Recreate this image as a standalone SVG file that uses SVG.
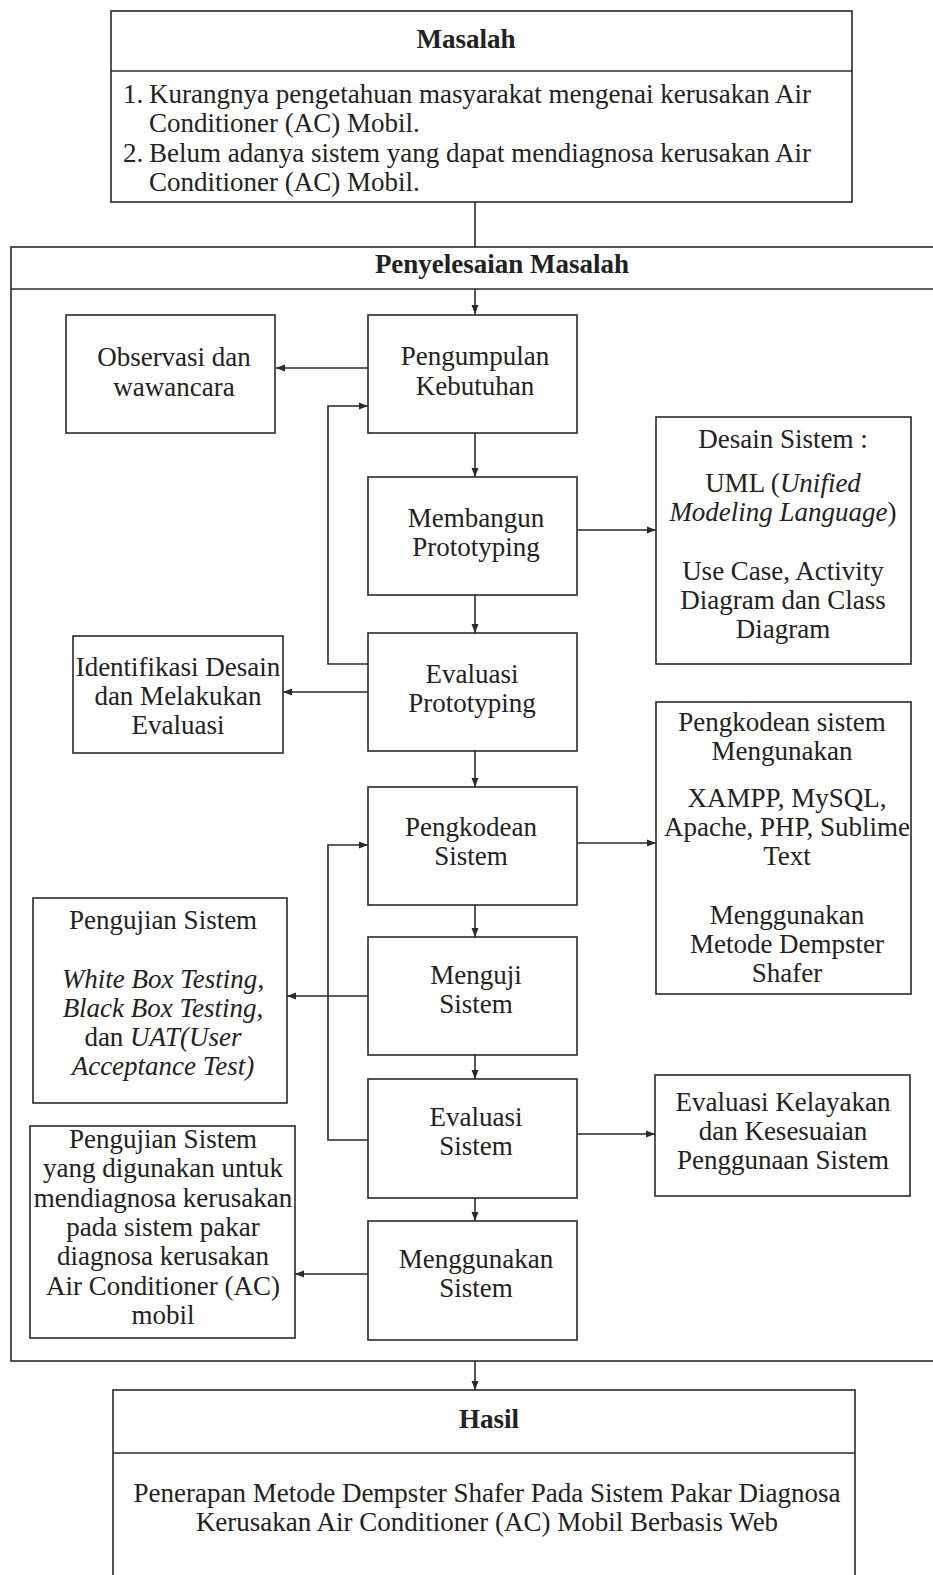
<svg xmlns="http://www.w3.org/2000/svg" width="933" height="1575" viewBox="0 0 933 1575">
  <defs>
    <marker id="arrow" markerWidth="10" markerHeight="8" refX="9" refY="4" orient="auto" markerUnits="userSpaceOnUse">
      <path d="M0,0.5 L9,4 L0,7.5 Z" fill="#2a2a2a"/>
    </marker>
    <style>
      .box { fill: #ffffff; stroke: #2a2a2a; stroke-width: 1.6; }
      .line { fill: none; stroke: #2a2a2a; stroke-width: 1.6; }
      .conn { fill: none; stroke: #2a2a2a; stroke-width: 1.6; marker-end: url(#arrow); }
      text { font-family: "Liberation Serif", "Times New Roman", serif; font-size: 27px; fill: #222222; }
      .c { text-anchor: middle; }
      .b { font-weight: bold; }
      .i { font-style: italic; }
    </style>
  </defs>

  <rect width="933" height="1575" fill="#ffffff"/>

  <!-- Problem statement -->
  <g id="masalah">
    <rect class="box" x="111" y="11" width="741" height="191"/>
    <line class="line" x1="111" y1="71" x2="852" y2="71"/>
    <text class="c b" x="466" y="48">Masalah</text>
    <text x="123" y="103">1.<tspan x="149">Kurangnya pengetahuan masyarakat mengenai kerusakan Air</tspan></text>
    <text x="149" y="132">Conditioner (AC) Mobil.</text>
    <text x="123" y="162">2.<tspan x="149">Belum adanya sistem yang dapat mendiagnosa kerusakan Air</tspan></text>
    <text x="149" y="191">Conditioner (AC) Mobil.</text>
  </g>

  <!-- Solution frame -->
  <g id="penyelesaian">
    <rect class="box" x="11" y="247" width="940" height="1114"/>
    <line class="line" x1="11" y1="289" x2="951" y2="289"/>
    <text class="c b" x="502" y="273">Penyelesaian Masalah</text>
  </g>

  <!-- Connectors -->
  <g id="connectors">
    <line class="line" x1="475" y1="202" x2="475" y2="247"/>
    <line class="conn" x1="475" y1="289" x2="475" y2="314"/>
    <line class="conn" x1="368" y1="368" x2="276" y2="368"/>
    <polyline class="conn" points="368,664 328,664 328,406 368,406"/>
    <line class="conn" x1="475" y1="433" x2="475" y2="477"/>
    <line class="conn" x1="578" y1="530" x2="656" y2="530"/>
    <line class="conn" x1="475" y1="595" x2="475" y2="633"/>
    <line class="conn" x1="368" y1="692" x2="283" y2="692"/>
    <line class="conn" x1="475" y1="751" x2="475" y2="787"/>
    <line class="conn" x1="578" y1="843" x2="656" y2="843"/>
    <polyline class="conn" points="368,1140 328,1140 328,845 368,845"/>
    <line class="conn" x1="475" y1="905" x2="475" y2="937"/>
    <line class="conn" x1="368" y1="996" x2="287" y2="996"/>
    <line class="conn" x1="475" y1="1055" x2="475" y2="1079"/>
    <line class="conn" x1="578" y1="1134" x2="655" y2="1134"/>
    <line class="conn" x1="475" y1="1198" x2="475" y2="1221"/>
    <line class="conn" x1="368" y1="1274" x2="295" y2="1274"/>
    <line class="conn" x1="475" y1="1361" x2="475" y2="1390"/>
  </g>

  <g id="pengumpulan">
    <rect class="box" x="368" y="315" width="209" height="118"/>
    <text class="c" x="475" y="365">Pengumpulan</text>
    <text class="c" x="475" y="395">Kebutuhan</text>
  </g>

  <g id="observasi">
    <rect class="box" x="66" y="315" width="209" height="118"/>
    <text class="c" x="174" y="366">Observasi dan</text>
    <text class="c" x="174" y="396">wawancara</text>
  </g>

  <g id="membangun">
    <rect class="box" x="368" y="477" width="209" height="118"/>
    <text class="c" x="476" y="527">Membangun</text>
    <text class="c" x="476" y="556">Prototyping</text>
  </g>

  <g id="desain">
    <rect class="box" x="656" y="417" width="255" height="247"/>
    <text class="c" x="783" y="448">Desain Sistem :</text>
    <text class="c" x="783" y="492">UML (<tspan class="i">Unified</tspan></text>
    <text class="c" x="783" y="521"><tspan class="i">Modeling Language</tspan>)</text>
    <text class="c" x="783" y="580">Use Case, Activity</text>
    <text class="c" x="783" y="609">Diagram dan Class</text>
    <text class="c" x="783" y="638">Diagram</text>
  </g>

  <g id="evaluasi-prototyping">
    <rect class="box" x="368" y="633" width="209" height="118"/>
    <text class="c" x="472" y="683">Evaluasi</text>
    <text class="c" x="472" y="712">Prototyping</text>
  </g>

  <g id="identifikasi">
    <rect class="box" x="73" y="636" width="210" height="117"/>
    <text class="c" x="178" y="676">Identifikasi Desain</text>
    <text class="c" x="178" y="705">dan Melakukan</text>
    <text class="c" x="178" y="734">Evaluasi</text>
  </g>

  <g id="pengkodean-tools">
    <rect class="box" x="656" y="702" width="255" height="292"/>
    <text class="c" x="782" y="731">Pengkodean sistem</text>
    <text class="c" x="782" y="760">Mengunakan</text>
    <text class="c" x="787" y="807">XAMPP, MySQL,</text>
    <text class="c" x="787" y="836">Apache, PHP, Sublime</text>
    <text class="c" x="787" y="865">Text</text>
    <text class="c" x="787" y="924">Menggunakan</text>
    <text class="c" x="787" y="953">Metode Dempster</text>
    <text class="c" x="787" y="982">Shafer</text>
  </g>

  <g id="pengkodean">
    <rect class="box" x="368" y="787" width="209" height="118"/>
    <text class="c" x="471" y="836">Pengkodean</text>
    <text class="c" x="471" y="865">Sistem</text>
  </g>

  <g id="pengujian-metode">
    <rect class="box" x="33" y="898" width="254" height="205"/>
    <text class="c" x="163" y="929">Pengujian Sistem</text>
    <text class="c" x="163" y="988"><tspan class="i">White Box Testing</tspan>,</text>
    <text class="c" x="163" y="1017"><tspan class="i">Black Box Testing</tspan>,</text>
    <text class="c" x="163" y="1046">dan <tspan class="i">UAT(User</tspan></text>
    <text class="c" x="163" y="1075"><tspan class="i">Acceptance Test)</tspan></text>
  </g>

  <g id="menguji">
    <rect class="box" x="368" y="937" width="209" height="118"/>
    <text class="c" x="476" y="984">Menguji</text>
    <text class="c" x="476" y="1013">Sistem</text>
  </g>

  <g id="evaluasi-sistem">
    <rect class="box" x="368" y="1079" width="209" height="119"/>
    <text class="c" x="476" y="1126">Evaluasi</text>
    <text class="c" x="476" y="1155">Sistem</text>
  </g>

  <g id="evaluasi-kelayakan">
    <rect class="box" x="655" y="1075" width="255" height="121"/>
    <text class="c" x="783" y="1111">Evaluasi Kelayakan</text>
    <text class="c" x="783" y="1140">dan Kesesuaian</text>
    <text class="c" x="783" y="1169">Penggunaan Sistem</text>
  </g>

  <g id="pengujian-diagnosa">
    <rect class="box" x="30" y="1126" width="265" height="212"/>
    <text class="c" x="163" y="1148">Pengujian Sistem</text>
    <text class="c" x="163" y="1177">yang digunakan untuk</text>
    <text class="c" x="163" y="1207">mendiagnosa kerusakan</text>
    <text class="c" x="163" y="1236">pada sistem pakar</text>
    <text class="c" x="163" y="1265">diagnosa kerusakan</text>
    <text class="c" x="163" y="1295">Air Conditioner (AC)</text>
    <text class="c" x="163" y="1324">mobil</text>
  </g>

  <g id="menggunakan">
    <rect class="box" x="368" y="1221" width="209" height="119"/>
    <text class="c" x="476" y="1268">Menggunakan</text>
    <text class="c" x="476" y="1297">Sistem</text>
  </g>

  <!-- Result -->
  <g id="hasil">
    <rect class="box" x="113" y="1390" width="742" height="200"/>
    <line class="line" x1="113" y1="1453" x2="855" y2="1453"/>
    <text class="c b" x="489" y="1428">Hasil</text>
    <text class="c" x="487" y="1502">Penerapan Metode Dempster Shafer Pada Sistem Pakar Diagnosa</text>
    <text class="c" x="487" y="1531">Kerusakan Air Conditioner (AC) Mobil Berbasis Web</text>
  </g>
</svg>
